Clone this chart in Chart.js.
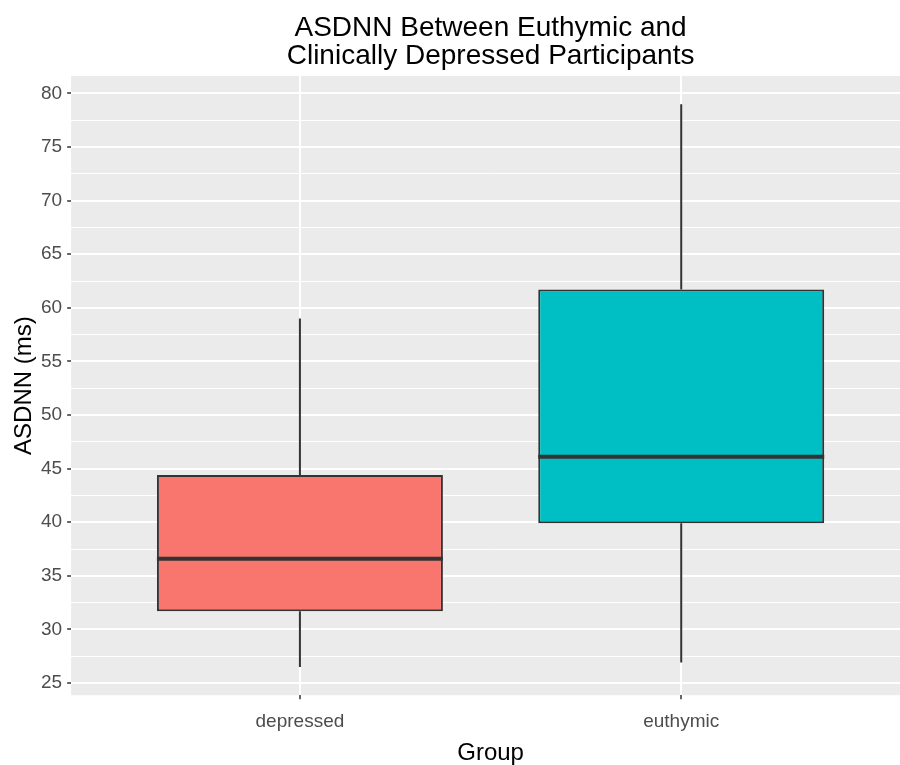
<!DOCTYPE html>
<html>
<head>
<meta charset="utf-8">
<title>ASDNN boxplot</title>
<script src="https://cdn.jsdelivr.net/npm/chart.js@4/dist/chart.umd.min.js"></script>
<style>
  html, body { margin: 0; padding: 0; background: #ffffff; overflow: hidden; }
  #wrap { width: 910px; height: 765px; }
</style>
</head>
<body>
<div id="wrap"><canvas id="box" width="910" height="765"></canvas></div>
<script>
// Groups on the x axis
const categories = ['depressed', 'euthymic'];

// Five-number summaries of ASDNN (ms) per group
const whiskerLow  = [26.5, 26.9];
const q1          = [31.7, 39.9];
const median      = [36.6, 46.1];
const q3          = [44.4, 61.7];
const whiskerHigh = [59.0, 79.0];

// Fill colours per group
const fills = ['#F8766D', '#00BFC4'];

// Axis breaks
const yMajorTicks = [25, 30, 35, 40, 45, 50, 55, 60, 65, 70, 75, 80];
const yMinorTicks = [27.5, 32.5, 37.5, 42.5, 47.5, 52.5, 57.5, 62.5, 67.5, 72.5, 77.5];
const xTicks = [1, 2];

const FONT = "'Liberation Sans', Arial, Helvetica, sans-serif";
const isMajor = (v) => yMajorTicks.includes(v);

// Grey panel behind everything in the plotting area
const panelBackground = {
  id: 'panelBackground',
  beforeDraw(chart) {
    const { ctx, chartArea: a } = chart;
    ctx.save();
    ctx.fillStyle = '#EBEBEB';
    ctx.fillRect(a.left, a.top, a.right - a.left, a.bottom - a.top);
    ctx.restore();
  }
};

// Whiskers under the boxes, median bar on top of them
const boxParts = {
  id: 'boxParts',
  beforeDatasetsDraw(chart) {
    const { ctx } = chart;
    const y = chart.scales.y;
    const meta = chart.getDatasetMeta(0);
    ctx.save();
    ctx.strokeStyle = '#333333';
    ctx.lineWidth = 2;
    meta.data.forEach((bar, i) => {
      const x = bar.x;
      ctx.beginPath();
      ctx.moveTo(x, y.getPixelForValue(q3[i]));
      ctx.lineTo(x, y.getPixelForValue(whiskerHigh[i]));
      ctx.moveTo(x, y.getPixelForValue(q1[i]));
      ctx.lineTo(x, y.getPixelForValue(whiskerLow[i]));
      ctx.stroke();
    });
    ctx.restore();
  },
  afterDatasetsDraw(chart) {
    const { ctx } = chart;
    const y = chart.scales.y;
    const meta = chart.getDatasetMeta(0);
    ctx.save();
    ctx.strokeStyle = '#333333';
    ctx.lineWidth = 4;
    meta.data.forEach((bar, i) => {
      const py = y.getPixelForValue(median[i]);
      ctx.beginPath();
      ctx.moveTo(bar.x - bar.width / 2, py);
      ctx.lineTo(bar.x + bar.width / 2, py);
      ctx.stroke();
    });
    ctx.restore();
  }
};

new Chart(document.getElementById('box'), {
  type: 'bar',
  data: {
    datasets: [{
      data: categories.map((c, i) => ({ x: xTicks[i], y: [q1[i], q3[i]] })),
      backgroundColor: fills,
      borderColor: '#333333',
      borderWidth: 2,
      borderSkipped: false,
      categoryPercentage: 1,
      barPercentage: 0.75
    }]
  },
  options: {
    responsive: false,
    animation: false,
    events: [],
    layout: { padding: 0 },
    plugins: {
      legend: { display: false },
      tooltip: { enabled: false },
      title: {
        display: true,
        fullSize: false,
        text: ['ASDNN Between Euthymic and', 'Clinically Depressed Participants'],
        color: '#000000',
        font: { family: FONT, size: 28, weight: 'normal', lineHeight: 1.0 },
        padding: { top: 14, bottom: 6 }
      }
    },
    scales: {
      x: {
        type: 'linear',
        min: 0.4,
        max: 2.6,
        offset: false,
        afterBuildTicks: (axis) => { axis.ticks = xTicks.map(v => ({ value: v })); },
        ticks: {
          autoSkip: false,
          maxRotation: 0,
          padding: 11,
          color: '#4D4D4D',
          font: { family: FONT, size: 19 },
          callback: (v) => categories[v - 1] ?? ''
        },
        grid: {
          offset: false,
          color: '#FFFFFF',
          lineWidth: 2,
          tickColor: '#333333',
          tickWidth: 1.5,
          tickLength: 4
        },
        border: { display: false },
        title: {
          display: true,
          text: 'Group',
          color: '#000000',
          font: { family: FONT, size: 24, lineHeight: 1.0 },
          padding: { top: -3, bottom: 0 }
        }
      },
      y: {
        type: 'linear',
        min: 23.86,
        max: 81.63,
        beginAtZero: false,
        afterBuildTicks: (axis) => {
          axis.ticks = [...yMajorTicks, ...yMinorTicks].sort((a, b) => a - b).map(v => ({ value: v }));
        },
        ticks: {
          autoSkip: false,
          padding: 5,
          color: '#4D4D4D',
          font: { family: FONT, size: 19 },
          callback: (v) => isMajor(v) ? String(v) : ''
        },
        grid: {
          color: '#FFFFFF',
          lineWidth: (c) => isMajor(c.tick.value) ? 2 : 1,
          tickColor: (c) => isMajor(c.tick.value) ? '#333333' : 'rgba(0,0,0,0)',
          tickWidth: 1.5,
          tickLength: 4
        },
        border: { display: false },
        title: {
          display: true,
          text: 'ASDNN (ms)',
          color: '#000000',
          font: { family: FONT, size: 24, lineHeight: 1.0 },
          padding: { top: 12, bottom: 0 }
        }
      }
    }
  },
  plugins: [panelBackground, boxParts]
});
</script>
</body>
</html>
